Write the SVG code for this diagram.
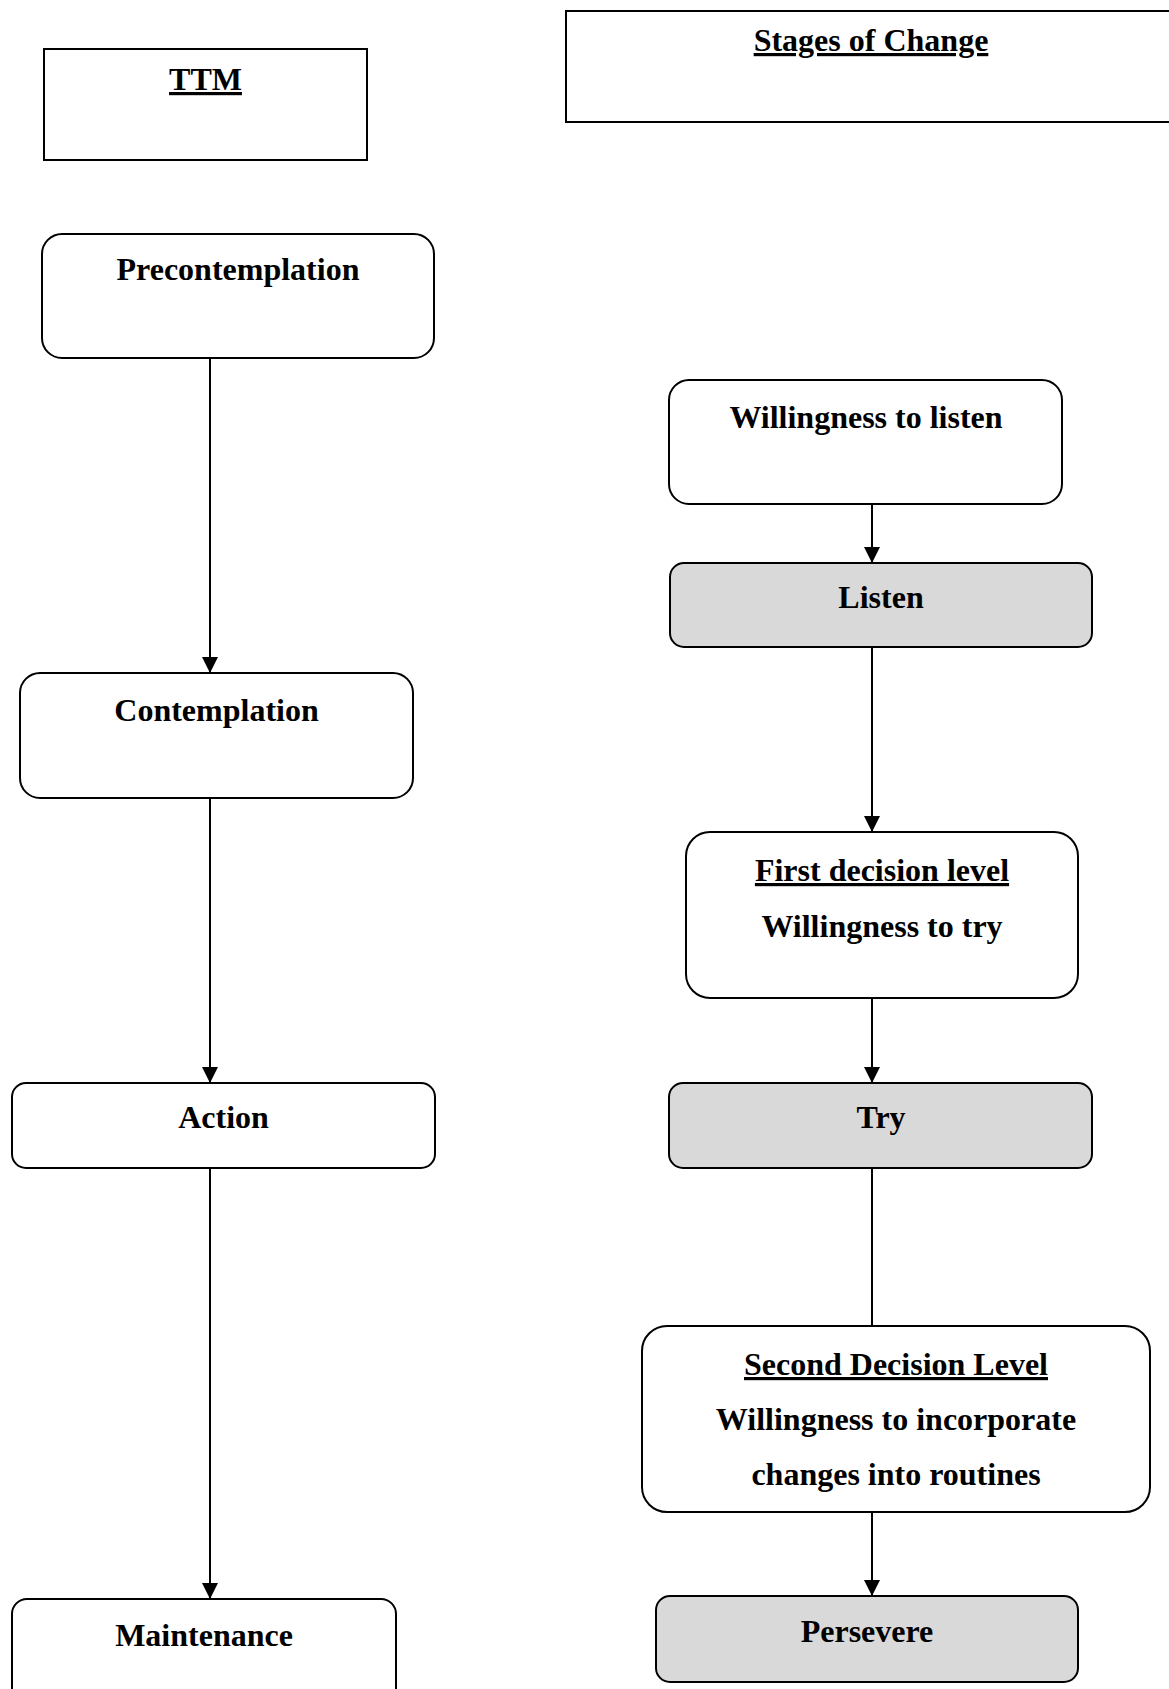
<svg xmlns="http://www.w3.org/2000/svg" width="1169" height="1689" viewBox="0 0 1169 1689">
  <style>
    .box { fill: #ffffff; stroke: #000000; stroke-width: 2; }
    .shade { fill: #d9d9d9; stroke: #000000; stroke-width: 2; }
    .lbl { font-family: "Liberation Serif", "Times New Roman", serif; font-weight: bold; font-size: 32px; fill: #000000; text-anchor: middle; }
    .ul { text-decoration: underline; text-decoration-thickness: 3px; }
    .link { fill: none; stroke: #000000; stroke-width: 2; }
  </style>
  <defs>
    <marker id="arrow" markerUnits="userSpaceOnUse" markerWidth="16" markerHeight="16" refX="16" refY="8" orient="auto">
      <path d="M0,0 L16,8 L0,16 Z" fill="#000000"/>
    </marker>
  </defs>

  <rect width="1169" height="1689" fill="#ffffff"/>

  <!-- column headers -->
  <g id="ttm-header">
    <rect class="box" x="44" y="49" width="323" height="111"/>
    <text class="lbl ul" x="205.5" y="90">TTM</text>
  </g>
  <g id="stages-header">
    <rect class="box" x="566" y="11" width="620" height="111"/>
    <text class="lbl ul" x="871" y="51">Stages of Change</text>
  </g>

  <!-- TTM column -->
  <g id="precontemplation">
    <rect class="box" x="42" y="234" width="392" height="124" rx="20" ry="20"/>
    <text class="lbl" x="238" y="280">Precontemplation</text>
  </g>
  <g id="contemplation">
    <rect class="box" x="20" y="673" width="393" height="125" rx="20" ry="20"/>
    <text class="lbl" x="216.5" y="721">Contemplation</text>
  </g>
  <g id="action">
    <rect class="box" x="12" y="1083" width="423" height="85" rx="14" ry="14"/>
    <text class="lbl" x="223.5" y="1128">Action</text>
  </g>
  <g id="maintenance">
    <rect class="box" x="12" y="1599" width="384" height="120" rx="15" ry="15"/>
    <text class="lbl" x="204" y="1646">Maintenance</text>
  </g>

  <!-- Stages of Change column -->
  <g id="willingness-listen">
    <rect class="box" x="669" y="380" width="393" height="124" rx="20" ry="20"/>
    <text class="lbl" x="866" y="428">Willingness to listen</text>
  </g>
  <g id="listen">
    <rect class="shade" x="670" y="563" width="422" height="84" rx="14" ry="14"/>
    <text class="lbl" x="881" y="608">Listen</text>
  </g>
  <g id="first-decision">
    <rect class="box" x="686" y="832" width="392" height="166" rx="24" ry="24"/>
    <text class="lbl ul" x="882" y="881">First decision level</text>
    <text class="lbl" x="882" y="937">Willingness to try</text>
  </g>
  <g id="try">
    <rect class="shade" x="669" y="1083" width="423" height="85" rx="14" ry="14"/>
    <text class="lbl" x="881" y="1128">Try</text>
  </g>
  <g id="second-decision">
    <rect class="box" x="642" y="1326" width="508" height="186" rx="25" ry="25"/>
    <text class="lbl ul" x="896" y="1375">Second Decision Level</text>
    <text class="lbl" x="896" y="1430">Willingness to incorporate</text>
    <text class="lbl" x="896" y="1485">changes into routines</text>
  </g>
  <g id="persevere">
    <rect class="shade" x="656" y="1596" width="422" height="86" rx="14" ry="14"/>
    <text class="lbl" x="867" y="1642">Persevere</text>
  </g>

  <!-- connectors -->
  <g id="connectors">
    <line class="link" x1="210" y1="358" x2="210" y2="673" marker-end="url(#arrow)"/>
    <line class="link" x1="210" y1="798" x2="210" y2="1083" marker-end="url(#arrow)"/>
    <line class="link" x1="210" y1="1168" x2="210" y2="1599" marker-end="url(#arrow)"/>
    <line class="link" x1="872" y1="504" x2="872" y2="563" marker-end="url(#arrow)"/>
    <line class="link" x1="872" y1="647" x2="872" y2="832" marker-end="url(#arrow)"/>
    <line class="link" x1="872" y1="998" x2="872" y2="1083" marker-end="url(#arrow)"/>
    <line class="link" x1="872" y1="1168" x2="872" y2="1326"/>
    <line class="link" x1="872" y1="1512" x2="872" y2="1596" marker-end="url(#arrow)"/>
  </g>
</svg>
